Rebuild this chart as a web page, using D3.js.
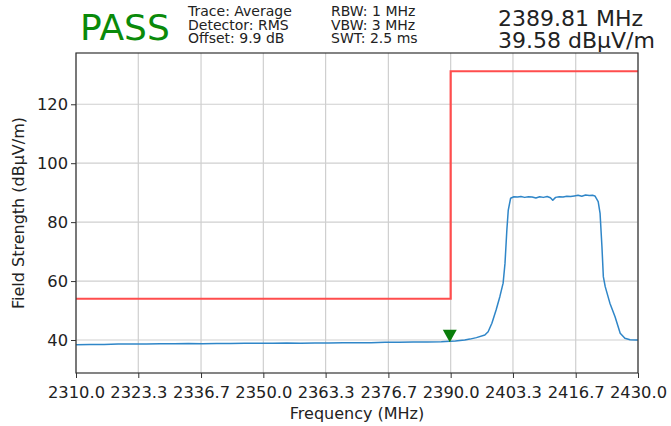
<!DOCTYPE html>
<html>
<head>
<meta charset="utf-8">
<script src="https://cdn.jsdelivr.net/npm/d3@7"></script>
<style>
  body { margin: 0; background: #fff; }
  text { font-family: "DejaVu Sans", sans-serif; }
</style>
</head>
<body>
<div id="chart"></div>
<script>
// measured trace (MHz / dBuV/m)
var freqs = [2310, 2313, 2316, 2319, 2322, 2325, 2328, 2331, 2334, 2337, 2340, 2343, 2346, 2349,
  2352, 2355, 2358, 2361, 2364, 2367, 2370, 2373, 2376, 2379, 2382, 2385, 2388, 2389.81,
  2391, 2393, 2394.1, 2395.5, 2397.3, 2398.0, 2398.8, 2399.7, 2400.5, 2401.2, 2401.6, 2402.0,
  2402.3, 2402.8, 2403.5, 2404.3, 2405.0, 2405.8, 2406.6, 2407.4, 2408.2, 2409.0, 2409.8,
  2410.6, 2411.3, 2411.8, 2412.4, 2413.2, 2414.0, 2414.8, 2415.6, 2416.4, 2417.2, 2418.0,
  2418.8, 2419.6, 2420.3, 2420.8, 2421.5, 2421.9, 2422.3, 2422.6, 2423.0, 2424.0, 2425.1,
  2426.2, 2427.2, 2428.3, 2429.7, 2430];
var levels = [38.4, 38.5, 38.5, 38.6, 38.6, 38.6, 38.7, 38.7, 38.8, 38.7, 38.8, 38.8, 38.9, 38.9,
  38.9, 39.0, 38.9, 39.0, 39.0, 39.1, 39.1, 39.1, 39.2, 39.2, 39.3, 39.3, 39.4, 39.58,
  39.7, 40.0, 40.3, 40.8, 41.7, 42.8, 45.7, 50.2, 54.7, 59.3, 66.0, 77.4,
  84.1, 88.1, 88.6, 88.5, 88.7, 88.4, 88.6, 88.5, 88.2, 88.6, 88.4,
  88.7, 88.3, 87.4, 88.4, 88.6, 88.5, 88.8, 88.7, 88.9, 89.1, 88.8,
  89.2, 89.0, 89.1, 88.9, 87.0, 83.0, 71.7, 61.5, 58.1, 52.5, 47.9,
  42.3, 40.6, 40.1, 40.0, 40.0];

// limit line
var limitFreqs = [2310, 2390, 2390, 2430];
var limitLevels = [54, 54, 131.2, 131.2];

var markerFreq = 2389.81, markerLevel = 39.58;

var xTicks = [2310.0, 2323.3, 2336.7, 2350.0, 2363.3, 2376.7, 2390.0, 2403.3, 2416.7, 2430.0];
var yTicks = [40, 60, 80, 100, 120];

var infoCol1 = ["Trace: Average", "Detector: RMS", "Offset: 9.9 dB"];
var infoCol2 = ["RBW: 1 MHz", "VBW: 3 MHz", "SWT: 2.5 ms"];
var readout = ["2389.81 MHz", "39.58 dB\u00b5V/m"];

(function(d3) {
  var W = 671, H = 426;
  var pl = 76, pr = 638, pt = 53, pb = 373;

  var svg = d3.select("#chart").append("svg")
    .attr("width", W).attr("height", H);

  var x = d3.scaleLinear().domain([2310, 2430]).range([pl, pr]);
  var y = d3.scaleLinear().domain([28.8, 137.4]).range([pb, pt]);

  // grid
  svg.append("g").selectAll("line").data(xTicks).enter().append("line")
    .attr("x1", function(d){ return x(d); }).attr("x2", function(d){ return x(d); })
    .attr("y1", pt).attr("y2", pb)
    .attr("stroke", "#cfcfcf").attr("stroke-width", 1.2);
  svg.append("g").selectAll("line").data(yTicks).enter().append("line")
    .attr("x1", pl).attr("x2", pr)
    .attr("y1", function(d){ return y(d); }).attr("y2", function(d){ return y(d); })
    .attr("stroke", "#cfcfcf").attr("stroke-width", 1.2);

  var line = d3.line()
    .x(function(d){ return x(d[0]); })
    .y(function(d){ return y(d[1]); });

  // limit
  svg.append("path")
    .datum(d3.zip(limitFreqs, limitLevels))
    .attr("d", line)
    .attr("fill", "none").attr("stroke", "#ff4d4d").attr("stroke-width", 2.2);

  // trace
  svg.append("path")
    .datum(d3.zip(freqs, levels))
    .attr("d", line)
    .attr("fill", "none").attr("stroke", "#2f86c8").attr("stroke-width", 1.5)
    .attr("stroke-linejoin", "round");

  // marker
  var mx = x(markerFreq), my = y(markerLevel);
  svg.append("path")
    .attr("d", "M" + (mx - 7) + "," + (my - 11.5) + "L" + (mx + 7) + "," + (my - 11.5) + "L" + mx + "," + (my + 1) + "Z")
    .attr("fill", "#0a7d0a");

  // axes
  var xAxis = d3.axisBottom(x).tickValues(xTicks).tickSize(5).tickSizeOuter(0)
    .tickFormat(d3.format(".1f"));
  var yAxis = d3.axisLeft(y).tickValues(yTicks).tickSize(5).tickSizeOuter(0);

  var gx = svg.append("g").attr("transform", "translate(0," + pb + ")").call(xAxis);
  var gy = svg.append("g").attr("transform", "translate(" + pl + ",0)").call(yAxis);
  [gx, gy].forEach(function(g){
    g.select(".domain").remove();
    g.selectAll("line").attr("stroke", "#333");
    g.selectAll("text").attr("font-size", "16.3px").attr("fill", "#222")
      .attr("font-family", "DejaVu Sans, sans-serif");
  });
  gx.selectAll("text").attr("dy", "1.05em");
  gy.selectAll("text").attr("x", -8);

  // frame
  svg.append("rect")
    .attr("x", pl).attr("y", pt).attr("width", pr - pl).attr("height", pb - pt)
    .attr("fill", "none").attr("stroke", "#333").attr("stroke-width", 1.2);

  // axis titles
  svg.append("text").text("Frequency (MHz)")
    .attr("x", (pl + pr) / 2).attr("y", 419)
    .attr("text-anchor", "middle").attr("font-size", "16px").attr("fill", "#222");
  svg.append("text").text("Field Strength (dB\u00b5V/m)")
    .attr("transform", "translate(24," + ((pt + pb) / 2) + ") rotate(-90)")
    .attr("text-anchor", "middle").attr("font-size", "16px").attr("fill", "#222");

  // header
  svg.append("text").text("PASS")
    .attr("x", 80).attr("y", 40)
    .attr("font-size", "36px").attr("fill", "#0a8a0a");

  svg.append("g").selectAll("text").data(infoCol1).enter().append("text")
    .text(function(d){ return d; })
    .attr("x", 188).attr("y", function(d, i){ return 16 + i * 13.5; })
    .attr("font-size", "14px").attr("fill", "#222");
  svg.append("g").selectAll("text").data(infoCol2).enter().append("text")
    .text(function(d){ return d; })
    .attr("x", 331).attr("y", function(d, i){ return 16 + i * 13.5; })
    .attr("font-size", "14px").attr("fill", "#222");

  svg.append("g").selectAll("text").data(readout).enter().append("text")
    .text(function(d){ return d; })
    .attr("x", 498).attr("y", function(d, i){ return 26 + i * 21.5; })
    .attr("font-size", "22px").attr("fill", "#222");
})(window.d3);
</script>
</body>
</html>
